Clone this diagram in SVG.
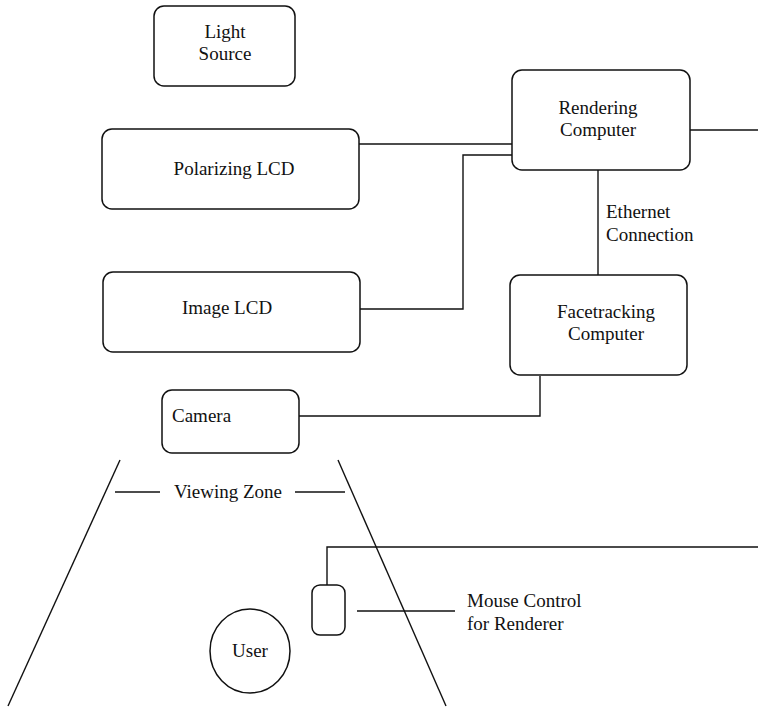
<svg xmlns="http://www.w3.org/2000/svg" width="758" height="708" viewBox="0 0 758 708">
<style>
.box{fill:#fff;stroke:#111;stroke-width:1.5}
.ln{fill:none;stroke:#111;stroke-width:1.4}
text{font-family:'Liberation Serif','DejaVu Serif',serif;font-size:19px;fill:#111}
.c{text-anchor:middle}
</style>
<rect width="758" height="708" fill="#fff"/>
<g id="connectors">
<polyline class="ln" points="359,144 512,144"/>
<polyline class="ln" points="360,309 463,309 463,155 512,155"/>
<polyline class="ln" points="690,130 758,130"/>
<polyline class="ln" points="598,170 598,275"/>
<polyline class="ln" points="299,416 540,416 540,376"/>
<polyline class="ln" points="327,602 327,547 758,547"/>
<polyline class="ln" points="357,611 455,611"/>
<polyline class="ln" points="115,492 160,492"/>
<polyline class="ln" points="295,492 345,492"/>
</g>
<g id="zone">
<line class="ln" x1="120" y1="460" x2="8" y2="706"/>
<line class="ln" x1="338" y1="460" x2="446" y2="706"/>
<text class="c" x="228" y="498" font-family="Liberation Serif, serif">Viewing Zone</text>
</g>
<g id="light-source">
<rect class="box" x="154" y="6" width="141" height="80" rx="10"/>
<text class="c" x="225" y="38">Light</text>
<text class="c" x="225" y="60">Source</text>
</g>
<g id="polarizing-lcd">
<rect class="box" x="102" y="129" width="257" height="80" rx="10"/>
<text class="c" x="234" y="175">Polarizing LCD</text>
</g>
<g id="rendering-computer">
<rect class="box" x="512" y="70" width="178" height="100" rx="10"/>
<text class="c" x="598" y="114">Rendering</text>
<text class="c" x="598" y="136">Computer</text>
</g>
<g id="ethernet-label">
<text x="606" y="218">Ethernet</text>
<text x="606" y="241">Connection</text>
</g>
<g id="image-lcd">
<rect class="box" x="103" y="272" width="257" height="80" rx="10"/>
<text class="c" x="227" y="314">Image LCD</text>
</g>
<g id="facetracking-computer">
<rect class="box" x="510" y="275" width="177" height="100" rx="10"/>
<text class="c" x="606" y="318">Facetracking</text>
<text class="c" x="606" y="340">Computer</text>
</g>
<g id="camera">
<rect class="box" x="162" y="390" width="137" height="63" rx="10"/>
<text x="172" y="422">Camera</text>
</g>
<g id="mouse">
<rect class="box" x="312" y="585" width="33" height="50" rx="8"/>
</g>
<g id="mouse-label">
<text x="467" y="607">Mouse Control</text>
<text x="467" y="630">for Renderer</text>
</g>
<g id="user">
<ellipse class="box" cx="250" cy="651" rx="40" ry="42"/>
<text class="c" x="250" y="657">User</text>
</g>
</svg>
